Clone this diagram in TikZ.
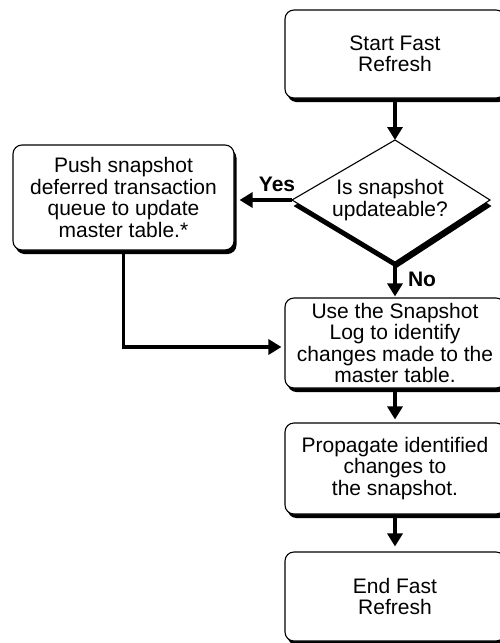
\documentclass[tikz,border=0pt]{standalone}
\usepackage{fontspec}
\setmainfont{Liberation Sans}
\usetikzlibrary{arrows.meta,shadows,calc}
\begin{document}
\begin{tikzpicture}[x=1pt,y=-1pt,
  txt/.style={font=\fontsize{21}{21.5}\selectfont,align=center,inner sep=0pt},
  box/.style={txt,draw,line width=1.1pt,fill=white,rounded corners=9pt,
    drop shadow={shadow xshift=2.5pt,shadow yshift=-4pt,opacity=1,fill=black}},
  conn/.style={line width=3.5pt,-{Triangle[length=13pt,width=15pt]}},
  lbl/.style={font=\fontsize{21}{21.5}\selectfont\bfseries,inner sep=0pt}]
\useasboundingbox (0,0) rectangle (500,643);
% boxes
\node[box,minimum width=220pt,minimum height=88pt] (start) at (395,54) {Start Fast\\Refresh};
\node[box,minimum width=221pt,minimum height=105pt] (push) at (123.5,197.5) {Push snapshot\\deferred transaction\\queue to update\\master table.*};
\node[box,minimum width=220pt,minimum height=90pt] (use) at (395,343) {Use the Snapshot\\Log to identify\\changes made to the\\master table.};
\node[box,minimum width=220pt,minimum height=91pt] (prop) at (395,468.5) {Propagate identified\\changes to\\the snapshot.};
\node[box,minimum width=220pt,minimum height=89pt] (end) at (395,596.5) {End Fast\\Refresh};
% decision diamond
\coordinate (dT) at (395,140);
\coordinate (dR) at (490,200);
\coordinate (dB) at (395,262);
\coordinate (dL) at (292,200);
\fill[black] ([shift={(1.5,6)}]dT) -- ([shift={(1.5,6)}]dR) -- ([shift={(1.5,6)}]dB) -- ([shift={(1.5,6)}]dL) -- cycle;
\filldraw[fill=white,draw=black,line width=1.1pt,line join=miter] (dT) -- (dR) -- (dB) -- (dL) -- cycle;
\node[txt] (dia) at (390,200) {Is snapshot\\updateable?};
% connectors
\draw[conn] (start.south) -- (dT);
\draw[conn,shorten >=5pt] (dL) -- (dL -| push.east);
\node[lbl] (yes) at (277,184) {Yes};
\draw[conn,shorten >=1pt] (dB) -- (use.north);
\node[lbl] (no) at (422,279) {No};
\draw[conn,shorten >=3pt] (push.south) |- ($(use.west)+(0,4)$);
\draw[conn,shorten >=3pt] (use.south) -- (prop.north);
\draw[conn,shorten >=5pt] (prop.south) -- (end.north);
\end{tikzpicture}
\end{document}
